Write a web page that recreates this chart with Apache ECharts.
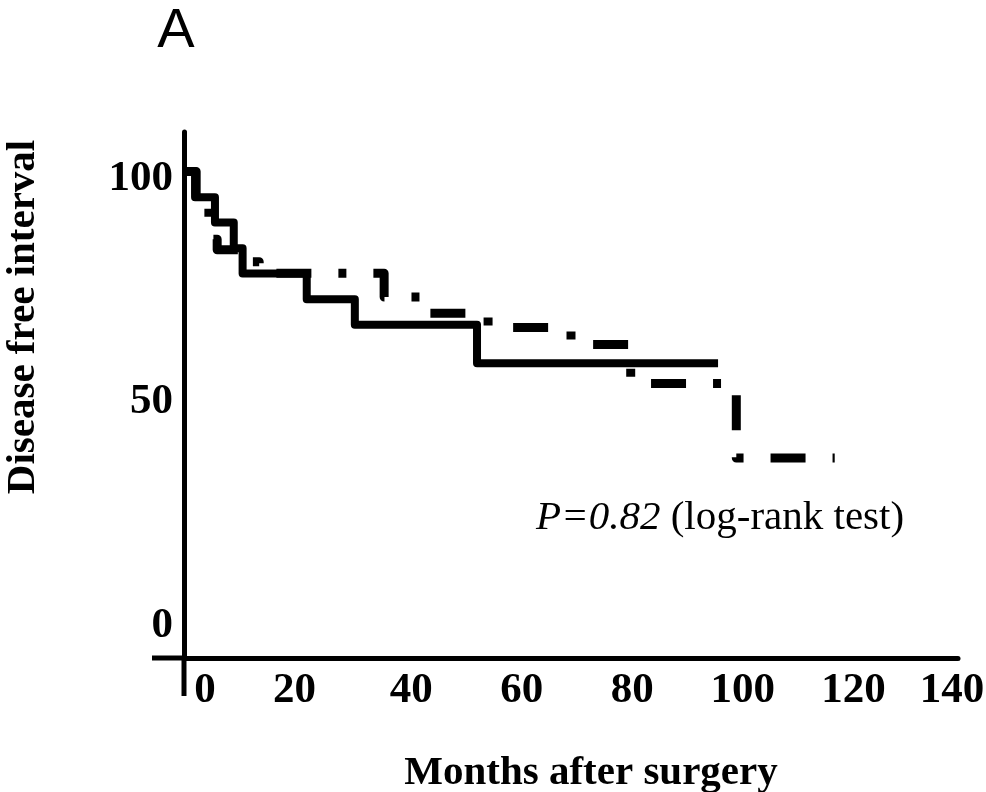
<!DOCTYPE html>
<html>
<head>
<meta charset="utf-8">
<script src="https://cdn.jsdelivr.net/npm/echarts@6/dist/echarts.min.js"></script>
<style>
  html, body { margin: 0; padding: 0; background: #ffffff; }
  #chart { width: 986px; height: 792px; }
</style>
</head>
<body>
<div id="chart"></div>
<script>
// Kaplan–Meier estimates: month at which the curve steps, and percent disease free from then on
const solidMonths  = [0, 2.0, 5.6, 9.0, 10.6, 22.2, 30.9, 53.0, 96.6];
const solidValues  = [100, 94.4, 88.9, 83.3, 77.8, 72.2, 66.7, 58.3, 58.3];
const dashedMonths = [0, 2.2, 4.5, 6.0, 12.3, 13.6, 36.2, 42.7, 55.0, 70.0, 80.8, 99.9, 117.7];
const dashedValues = [100, 94.4, 85.3, 83.0, 80.4, 77.9, 72.7, 69.2, 66.1, 62.4, 53.9, 37.7, 37.7];

const xTickLabels = [0, 20, 40, 60, 80, 100, 120, 140];
const yTickLabels = [0, 50, 100];

const X_MIN = 0, X_MAX = 140;
const Y_MIN = -5.8, Y_MAX = 108.6;

const SERIF = "'Liberation Serif', 'Times New Roman', serif";
const SANS = "'Liberation Sans', Arial, sans-serif";

function pairs(xs, ys) {
  return xs.map((x, i) => [x, ys[i]]);
}

const tickFont = { fontFamily: SERIF, fontWeight: 'bold', fontSize: 43, color: '#000' };

const chart = echarts.init(document.getElementById('chart'), null, { renderer: 'canvas' });

chart.setOption({
  animation: false,
  backgroundColor: '#ffffff',
  grid: {
    left: 184, right: 28, top: 132, bottom: 134,
    containLabel: false,
    outerBoundsMode: 'none'
  },
  xAxis: {
    type: 'value',
    min: X_MIN, max: X_MAX, interval: 20,
    axisLine: { show: true, onZero: false, lineStyle: { color: '#000', width: 5 } },
    axisTick: { show: false },
    splitLine: { show: false },
    axisLabel: {
      margin: 11,
      color: '#000',
      fontFamily: SERIF, fontWeight: 'bold', fontSize: 43,
      formatter: function (v) {
        if (xTickLabels.indexOf(v) < 0) return '';
        if (v === 0) return '{first|' + v + '}';
        if (v === 20) return '{n|' + v + '}';
        if (v === 140) return '{last|' + v + '}';
        return '{mid|' + v + '}';
      },
      rich: {
        n: Object.assign({}, tickFont),
        mid: Object.assign({ padding: [0, 0, 0, 12] }, tickFont),
        first: Object.assign({ padding: [0, 0, 0, 42] }, tickFont),
        last: Object.assign({ padding: [0, 12, 0, 0] }, tickFont)
      }
    }
  },
  yAxis: {
    type: 'value',
    min: Y_MIN, max: Y_MAX,
    axisLine: { show: true, onZero: false, lineStyle: { color: '#000', width: 5 } },
    axisTick: { show: false },
    splitLine: { show: false },
    axisLabel: {
      margin: 11,
      color: '#000',
      fontFamily: SERIF, fontWeight: 'bold', fontSize: 43,
      customValues: yTickLabels,
      formatter: function (v) {
        if (v === 100) return '{top|' + v + '}';
        if (v === 0) return '{bottom|' + v + '}';
        return '{n|' + v + '}';
      },
      rich: {
        n: Object.assign({}, tickFont),
        top: Object.assign({ padding: [14, 0, 0, 0] }, tickFont),
        bottom: Object.assign({ padding: [0, 0, 10, 0] }, tickFont)
      }
    }
  },
  series: [
    {
      name: 'solid group',
      type: 'line',
      step: 'end',
      showSymbol: false,
      symbol: 'none',
      data: pairs(solidMonths, solidValues),
      lineStyle: { color: '#000', width: 8, type: 'solid', join: 'round', cap: 'butt' },
      z: 3
    },
    {
      name: 'dash-dot group',
      type: 'line',
      step: 'end',
      showSymbol: false,
      symbol: 'none',
      data: pairs(dashedMonths, dashedValues),
      lineStyle: { color: '#000', width: 9, type: [35, 27, 8, 27], dashOffset: 0, join: 'round', cap: 'butt' },
      z: 2
    }
  ]
});

// Axis overhangs past the origin, plus the panel letter, axis titles and test annotation
const origin = chart.convertToPixel({ gridIndex: 0 }, [X_MIN, Y_MIN]);
chart.setOption({
  graphic: [
    {
      type: 'line',
      shape: { x1: origin[0] - 32, y1: origin[1], x2: origin[0], y2: origin[1] },
      style: { stroke: '#000', lineWidth: 5 }
    },
    {
      type: 'line',
      shape: { x1: origin[0], y1: origin[1], x2: origin[0], y2: origin[1] + 38 },
      style: { stroke: '#000', lineWidth: 5 }
    },
    {
      type: 'text',
      x: 176, y: 32,
      style: { text: 'A', fontFamily: SANS, fontSize: 56, fill: '#000', align: 'center', verticalAlign: 'middle' }
    },
    {
      type: 'text',
      x: 23, y: 317,
      rotation: Math.PI / 2,
      style: { text: 'Disease free interval', fontFamily: SERIF, fontWeight: 'bold', fontSize: 41, fill: '#000', align: 'center', verticalAlign: 'middle' }
    },
    {
      type: 'text',
      x: 591, y: 773,
      style: { text: 'Months after surgery', fontFamily: SERIF, fontWeight: 'bold', fontSize: 41, fill: '#000', align: 'center', verticalAlign: 'middle' }
    },
    {
      type: 'text',
      x: 536, y: 518,
      style: {
        text: '{i|P=0.82}{r| (log-rank test)}',
        align: 'left', verticalAlign: 'middle',
        rich: {
          i: { fontFamily: SERIF, fontStyle: 'italic', fontSize: 41, fill: '#000' },
          r: { fontFamily: SERIF, fontSize: 41, fill: '#000' }
        }
      }
    }
  ]
});
</script>
</body>
</html>
